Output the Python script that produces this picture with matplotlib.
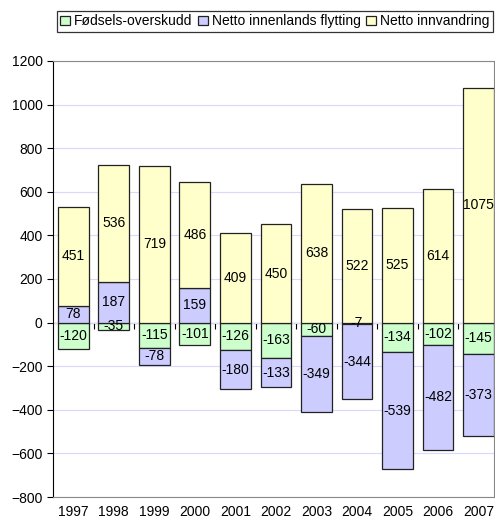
import matplotlib.pyplot as plt
import numpy as np

plt.rcParams['font.family'] = ['Liberation Sans', 'DejaVu Sans']

years = ['1997', '1998', '1999', '2000', '2001', '2002', '2003', '2004', '2005', '2006', '2007']
fodsel = [-120, -35, -115, -101, -126, -163, -60, -7, -134, -102, -145]
innenlands = [78, 187, -78, 159, -180, -133, -349, -344, -539, -482, -373]
innvandring = [451, 536, 719, 486, 409, 450, 638, 522, 525, 614, 1075]

series = [
    ('Fødsels-overskudd', fodsel, '#ccffcc'),
    ('Netto innenlands flytting', innenlands, '#ccccff'),
    ('Netto innvandring', innvandring, '#ffffcc'),
]

fig = plt.figure(figsize=(4.95, 5.23), dpi=100)
ax = fig.add_axes([0.107, 0.0497, 0.891, 0.8337])

x = np.arange(len(years))
pos_base = np.zeros(len(years))
neg_base = np.zeros(len(years))
handles = []
for label, vals, color in series:
    vals = np.array(vals, dtype=float)
    bottom = np.where(vals >= 0, pos_base, neg_base)
    bars = ax.bar(x, vals, bottom=bottom, width=0.76, color=color,
                  edgecolor='#222222', linewidth=0.9, label=label, zorder=3)
    handles.append(bars)
    for xi, b, v in zip(x, bottom, vals):
        ax.text(xi, b + v / 2, f'{int(v)}', ha='center', va='center',
                fontsize=10, zorder=4)
    pos_base = np.where(vals >= 0, pos_base + vals, pos_base)
    neg_base = np.where(vals < 0, neg_base + vals, neg_base)

ax.set_ylim(-800, 1200)
ax.set_yticks(np.arange(-800, 1201, 200))
ax.set_xlim(-0.5, 10.38)
ax.set_xticks(x)
ax.set_xticklabels(years)
ax.tick_params(axis='x', length=0, labelsize=10, pad=6)
ax.tick_params(axis='y', direction='out', length=4, labelsize=10, color='black')
ax.yaxis.grid(True, color='#d9d9ff', linewidth=0.8, zorder=0)
ax.set_axisbelow(True)

for side in ('top', 'right', 'bottom'):
    ax.spines[side].set_color('#888888')
ax.spines['left'].set_color('black')

# zero axis with tick marks between categories
zero_ax = ax.secondary_xaxis(0.4)
zero_ax.set_xticks(x[:-1] + 0.5)
zero_ax.set_xticklabels([])
zero_ax.tick_params(direction='out', length=4, color='black')
zero_ax.spines['bottom'].set_color('black')
zero_ax.spines['bottom'].set_zorder(5)

leg = fig.legend(handles=handles, loc='upper center', bbox_to_anchor=(0.555, 0.979),
                 ncol=3, fontsize=10, frameon=True, fancybox=False,
                 handlelength=0.7, handleheight=0.7, handletextpad=0.3,
                 columnspacing=0.4, borderpad=0.25, borderaxespad=0)
leg.get_frame().set_edgecolor('black')
leg.get_frame().set_linewidth(0.9)

fig.savefig('out.png', dpi=100)
